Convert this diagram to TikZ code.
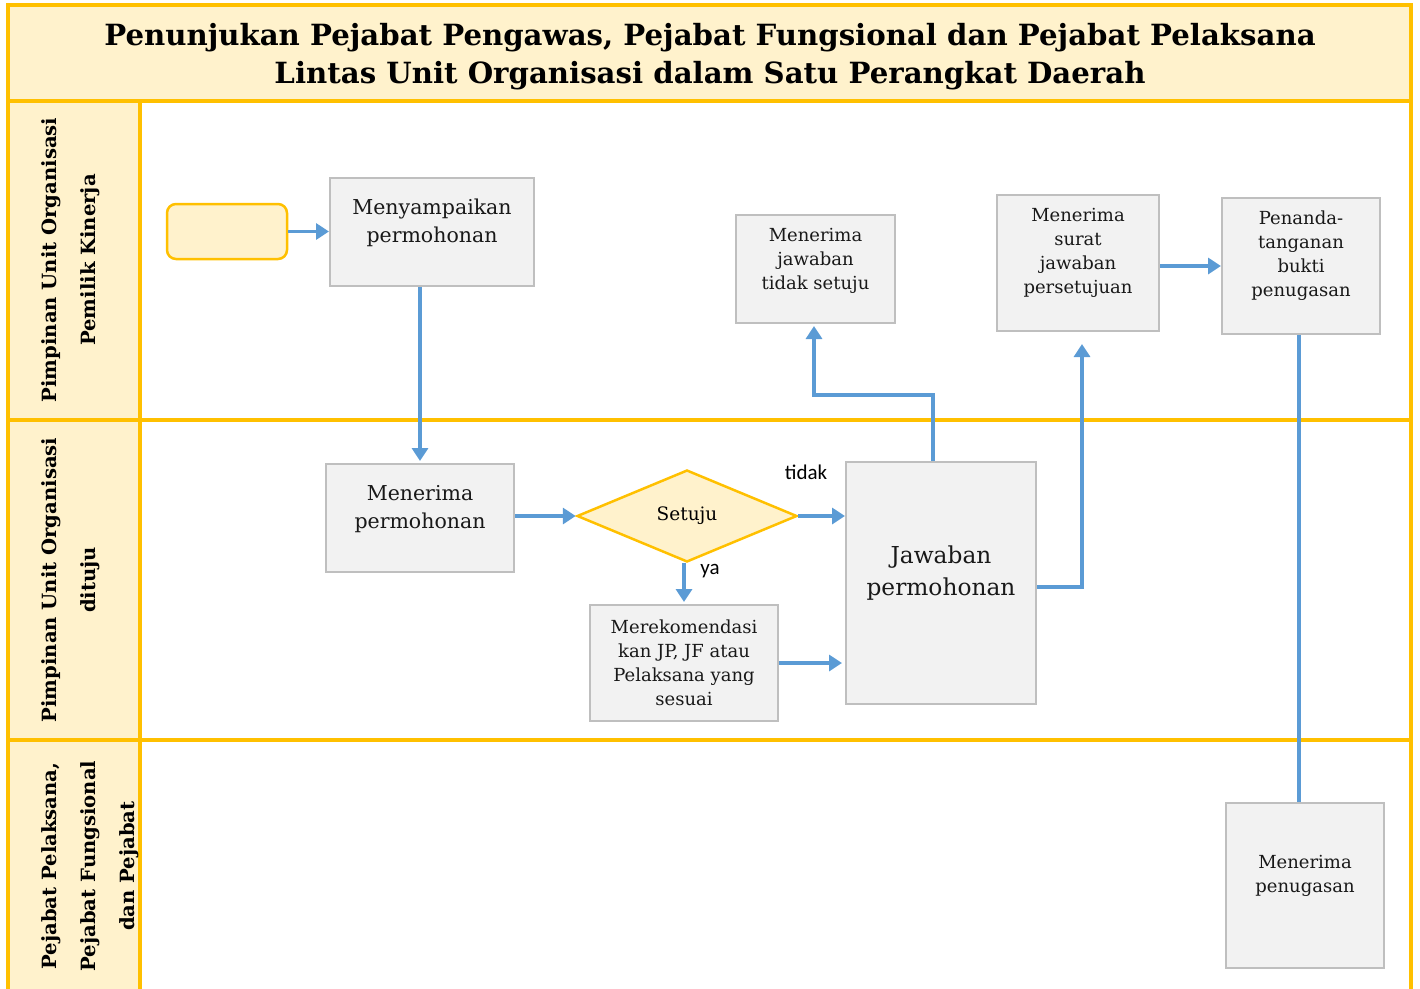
\documentclass[tikz,border=0pt]{standalone}
\usepackage{fontspec}
\setmainfont{DejaVu Serif}
\newfontfamily\labelsans{Carlito}
\usetikzlibrary{arrows.meta,shapes.geometric,calc}
\definecolor{laneyellow}{HTML}{FFC000}
\definecolor{lanefill}{HTML}{FFF2CC}
\definecolor{flowblue}{HTML}{5B9BD5}
\definecolor{boxfill}{HTML}{F2F2F2}
\definecolor{boxborder}{HTML}{BFBFBF}
\tikzset{
  lane/.style={draw=laneyellow, line width=4pt},
  box/.style={draw=boxborder, fill=boxfill, line width=2pt, inner sep=0pt},
  boxtxt/.style={align=center, inner sep=0pt, text=black!90},
  big/.style={font=\fontsize{20.5}{28}\selectfont},
  small/.style={font=\fontsize{18}{24}\selectfont},
  huge/.style={font=\fontsize{23.3}{32}\selectfont},
  lanetitle/.style={rotate=90, align=center, inner sep=0pt, font=\bfseries\fontsize{19.6}{39}\selectfont},
  flow/.style={draw=flowblue, line width=3.5pt, -{Triangle[length=13pt,width=16pt]}},
  plain/.style={draw=flowblue, line width=3.5pt},
  branch/.style={font=\labelsans\fontsize{21}{22}\selectfont, inner sep=0pt}
}
\begin{document}
\begin{tikzpicture}[x=1pt,y=-1pt]
\useasboundingbox (0,0) rectangle (1420,988);
% backgrounds of the title band and the lane headers
\fill[lanefill] (8,5) rectangle (1411,101);
\fill[lanefill] (8,101) rectangle (140,1000);
% swimlane frame
\draw[lane] (8,1000) -- (8,5) -- (1411,5) -- (1411,1000);
\draw[lane] (8,101) -- (1411,101);
\draw[lane] (8,420) -- (1411,420);
\draw[lane] (8,740) -- (1411,740);
\draw[lane] (140,101) -- (140,1000);

% title
\node[align=center, inner sep=0pt, font=\bfseries\fontsize{29.2}{38}\selectfont] (title) at (710,57)
  {Penunjukan Pejabat Pengawas, Pejabat Fungsional dan Pejabat Pelaksana\\
   Lintas Unit Organisasi dalam Satu Perangkat Daerah};

% lane headers
\node[lanetitle] (laneA) at (70.5,260) {Pimpinan Unit Organisasi\\Pemilik Kinerja};
\node[lanetitle] (laneB) at (70.5,580) {Pimpinan Unit Organisasi\\dituju};
\node[lanetitle] (laneC) at (90,866) {Pejabat Pelaksana,\\Pejabat Fungsional\\dan Pejabat};

% process steps
\node[draw=laneyellow, fill=lanefill, line width=2.5pt, rounded corners=9pt,
      minimum width=120pt, minimum height=55pt, inner sep=0pt] (start) at (227,231.5) {};
\node[box, minimum width=204pt, minimum height=108pt,
      label={[boxtxt,big,yshift=9pt]center:Menyampaikan\\permohonan}] (m1) at (432,232) {};
\node[box, minimum width=188pt, minimum height=108pt,
      label={[boxtxt,big,yshift=9pt]center:Menerima\\permohonan}] (m2) at (420,518) {};
\node[diamond, aspect=2.39, draw=laneyellow, fill=lanefill, line width=2.5pt,
      minimum width=220pt, minimum height=92pt, inner sep=0pt,
      font=\fontsize{18.5}{20}\selectfont] (dec) at (687,516) {Setuju};
\node[box, minimum width=188pt, minimum height=116pt,
      label={[boxtxt,small]center:Merekomendasi\\kan JP, JF atau\\Pelaksana yang\\sesuai}] (rek) at (684,663) {};
\node[box, minimum width=190pt, minimum height=242pt,
      label={[boxtxt,huge,yshift=10pt]center:Jawaban\\permohonan}] (jaw) at (941,583) {};
\node[box, minimum width=159pt, minimum height=108pt,
      label={[boxtxt,small,yshift=8pt]center:Menerima\\jawaban\\tidak setuju}] (tds) at (815.5,269) {};
\node[box, minimum width=162pt, minimum height=136pt,
      label={[boxtxt,small,yshift=10pt]center:Menerima\\surat\\jawaban\\persetujuan}] (sur) at (1078,263) {};
\node[box, minimum width=158pt, minimum height=136pt,
      label={[boxtxt,small,yshift=10pt]center:Penanda-\\tanganan\\bukti\\penugasan}] (pen) at (1301,266) {};
\node[box, minimum width=158pt, minimum height=165pt,
      label={[boxtxt,small,yshift=10pt]center:Menerima\\penugasan}] (trm) at (1305,885.5) {};

% connectors
\draw[flow] (start.east) -- (start.east -| m1.west);
\draw[flow] (m2.north |- m1.south) -- ([yshift=2pt]m2.north);
\draw[flow] (m2.east |- dec.west) -- (dec.west);
\draw[flow] (dec.east) -- (dec.east -| jaw.west);
\draw[flow] (dec.south -| rek.north) -- ([yshift=2pt]rek.north);
\draw[flow] (rek.east) -- ([xshift=-3pt]rek.east -| jaw.west);
\draw[flow] ([xshift=-8pt]jaw.north) -- ++(0,-66) -| ([xshift=-1.5pt,yshift=-2pt]tds.south);
\draw[flow] ([yshift=-4pt]jaw.east) -| ([xshift=4pt,yshift=-12pt]sur.south);
\draw[flow] ([yshift=-3pt]sur.east) -- ([yshift=-3pt]sur.east -| pen.west);
\draw[plain] ([xshift=-2pt]pen.south) -- ([xshift=-2pt]pen.south |- trm.north);

% branch labels
\node[branch] (no) at (806,472) {tidak};
\node[branch] (yes) at (710,571) {ya};
\end{tikzpicture}
\end{document}
